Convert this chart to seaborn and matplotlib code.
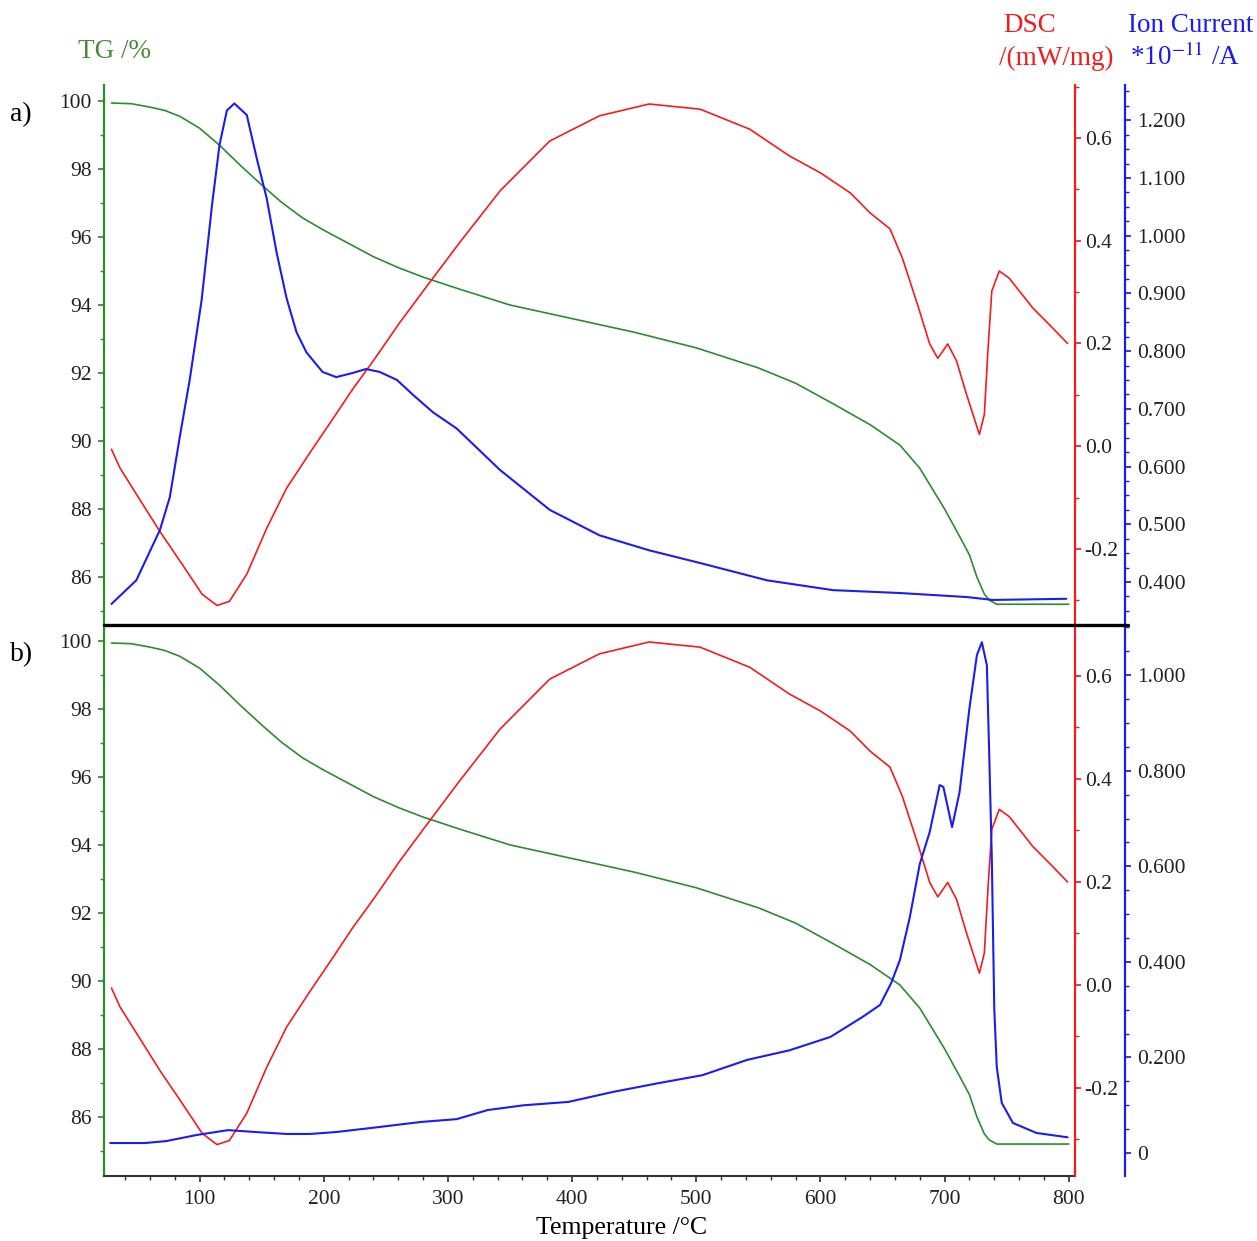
import numpy as np
import matplotlib
matplotlib.use("Agg")
import matplotlib.pyplot as plt
import matplotlib.ticker as mticker
from matplotlib.lines import Line2D
import seaborn as sns

# TG curve (same run shown in both panels)
tg_temp = [29, 45, 60, 72, 84, 100, 116, 133, 150, 166, 183, 200, 218, 240, 260, 280,
           309, 350, 400, 450, 500, 550, 580, 610, 640, 664, 680, 690, 700, 712, 720,
           726, 732, 736, 742, 760, 780, 800]
tg_val = [99.94, 99.92, 99.82, 99.72, 99.55, 99.2, 98.7, 98.1, 97.53, 97.02, 96.56, 96.2,
          95.85, 95.42, 95.1, 94.82, 94.47, 94.0, 93.6, 93.2, 92.74, 92.15, 91.7, 91.1,
          90.48, 89.88, 89.2, 88.6, 88.0, 87.2, 86.65, 86.0, 85.5, 85.32, 85.2, 85.2, 85.2, 85.2]

# DSC curve
dsc_temp = [29, 36, 49, 68, 86, 102, 114, 124, 138, 154, 170, 189, 207, 223, 241, 261, 281,
            309, 342, 382, 422, 462, 503, 543, 575, 600, 624, 640, 656, 666, 678, 688, 694.5,
            702.5, 709.6, 717.6, 728, 732, 735, 738, 744, 752, 771, 785, 799]
dsc_val = [-0.006, -0.043, -0.093, -0.166, -0.23, -0.288, -0.31, -0.302, -0.249, -0.16,
           -0.082, -0.012, 0.052, 0.11, 0.17, 0.24, 0.305, 0.395, 0.497, 0.594, 0.643,
           0.666, 0.656, 0.617, 0.565, 0.532, 0.493, 0.454, 0.423, 0.366, 0.277, 0.199,
           0.171, 0.199, 0.166, 0.101, 0.023, 0.062, 0.191, 0.302, 0.341, 0.327, 0.269,
           0.235, 0.2]

# ion current, panel a
ion_a_temp = [29, 49, 68, 76, 84, 92, 101.6, 110, 116, 122, 128, 138, 146, 154, 162, 170,
              178, 186, 199, 210, 223, 234, 245, 259, 272, 288, 307, 342, 382, 422, 462,
              503, 557, 610, 664, 718, 739, 798]
ion_a_val = [0.362, 0.403, 0.49, 0.547, 0.651, 0.75, 0.888, 1.053, 1.157, 1.217, 1.229,
             1.209, 1.134, 1.065, 0.971, 0.892, 0.833, 0.798, 0.764, 0.755, 0.762, 0.769,
             0.764, 0.75, 0.724, 0.694, 0.666, 0.594, 0.525, 0.481, 0.455, 0.433, 0.403,
             0.386, 0.381, 0.374, 0.369, 0.371]

# ion current, panel b
ion_b_temp = [28, 56, 73, 98, 123, 145, 170, 189, 210, 243, 278, 307, 332, 361, 397, 433,
              469, 505, 541, 575, 608, 621, 634, 648, 657, 664, 672, 680, 688, 696, 699,
              706, 712, 720, 726, 730, 734, 736, 738, 740, 742, 746, 755, 774, 799]
ion_b_val = [0.021, 0.021, 0.025, 0.038, 0.048, 0.044, 0.04, 0.04, 0.044, 0.054, 0.065,
             0.071, 0.09, 0.1, 0.107, 0.128, 0.146, 0.163, 0.195, 0.215, 0.243, 0.264,
             0.285, 0.31, 0.356, 0.404, 0.494, 0.605, 0.672, 0.77, 0.766, 0.682, 0.755,
             0.931, 1.042, 1.069, 1.021, 0.826, 0.617, 0.30, 0.18, 0.105, 0.063, 0.042, 0.033]

GREEN = "#2e8b2e"
RED = "#f21c1c"
BLUE = "#1c1cf0"

sns.set_theme(style="white")
plt.rcParams['font.family'] = ['Liberation Serif', 'DejaVu Serif']
plt.rcParams['mathtext.fontset'] = 'stix'

W, H = 1257, 1241
fig = plt.figure(figsize=(W / 100, H / 100), dpi=100)
fig.patch.set_facecolor('white')

left, right = 104, 1075
panels = [
    dict(top=85, bottom=625, tg_lim=(84.59, 100.47), dsc_lim=(-0.348, 0.703),
         ion_lim=(0.3256, 1.261), ion_t=ion_a_temp, ion_v=ion_a_val,
         ion_minor=0.025, ion_ticks=np.arange(0.4, 1.21, 0.1)),
    dict(top=625, bottom=1176, tg_lim=(84.26, 100.47), dsc_lim=(-0.371, 0.699),
         ion_lim=(-0.048, 1.105), ion_t=ion_b_temp, ion_v=ion_b_val,
         ion_minor=0.05, ion_ticks=np.arange(0.0, 1.01, 0.2)),
]

tick_fs = 15.5

def ion_fmt(v, pos):
    return '0' if abs(v) < 1e-9 else f'{v:.3f}'

for i, p in enumerate(panels):
    ax = fig.add_axes([left / W, 1 - p['bottom'] / H, (right - left) / W,
                       (p['bottom'] - p['top']) / H])
    ax.set_facecolor('none')
    sns.lineplot(x=tg_temp, y=tg_val, ax=ax, color=GREEN, linewidth=1.2)
    ax.set_xlim(23, 805)
    ax.set_ylim(*p['tg_lim'])
    ax.set_yticks(np.arange(86, 101, 2))
    ax.yaxis.set_minor_locator(mticker.MultipleLocator(1))
    ax.tick_params(axis='y', which='both', direction='out', color=GREEN, labelcolor='#222222',
                   labelsize=tick_fs, left=True, pad=5)
    ax.tick_params(axis='y', which='major', length=4)
    ax.tick_params(axis='y', which='minor', length=3)
    for s in ['top', 'right']:
        ax.spines[s].set_visible(False)
    ax.spines['left'].set_color(GREEN)
    ax.spines['left'].set_linewidth(1.6)
    ax.set_ylabel('')
    ax.set_xlabel('')
    if i == 0:
        ax.spines['bottom'].set_visible(False)
        ax.tick_params(axis='x', bottom=False, labelbottom=False)
    else:
        ax.spines['bottom'].set_color('#333333')
        ax.spines['bottom'].set_linewidth(1.5)
        ax.set_xticks(np.arange(100, 801, 100))
        ax.xaxis.set_minor_locator(mticker.MultipleLocator(20))
        ax.tick_params(axis='x', which='both', direction='out', bottom=True, color='#333333',
                       labelcolor='#222222', labelsize=tick_fs, pad=6)
        ax.tick_params(axis='x', which='major', length=4)
        ax.tick_params(axis='x', which='minor', length=3)

    # DSC axis
    ax2 = ax.twinx()
    sns.lineplot(x=dsc_temp, y=dsc_val, ax=ax2, color=RED, linewidth=1.2)
    ax2.set_ylim(*p['dsc_lim'])
    ax2.set_yticks([-0.2, 0.0, 0.2, 0.4, 0.6])
    ax2.yaxis.set_minor_locator(mticker.MultipleLocator(0.1))
    ax2.yaxis.set_major_formatter(mticker.FuncFormatter(lambda v, pos: f'{v:.1f}'))
    ax2.tick_params(axis='y', which='both', direction='out', color=RED, labelcolor='#222222',
                    labelsize=tick_fs, right=True, pad=3)
    ax2.tick_params(axis='y', which='major', length=4)
    ax2.tick_params(axis='y', which='minor', length=3)
    for s in ['top', 'left', 'bottom']:
        ax2.spines[s].set_visible(False)
    ax2.spines['right'].set_color(RED)
    ax2.spines['right'].set_linewidth(1.6)
    ax2.set_ylabel('')

    # ion current axis, 50 px to the right of the DSC spine
    ax3 = ax.twinx()
    ax3.spines['right'].set_position(('outward', 36))
    sns.lineplot(x=p['ion_t'], y=p['ion_v'], ax=ax3, color=BLUE, linewidth=1.5)
    ax3.set_ylim(*p['ion_lim'])
    ax3.set_yticks(p['ion_ticks'])
    ax3.yaxis.set_minor_locator(mticker.MultipleLocator(p['ion_minor']))
    ax3.yaxis.set_major_formatter(mticker.FuncFormatter(ion_fmt))
    ax3.tick_params(axis='y', which='both', direction='out', color=BLUE, labelcolor='#222222',
                    labelsize=tick_fs, right=True, pad=5)
    ax3.tick_params(axis='y', which='major', length=4)
    ax3.tick_params(axis='y', which='minor', length=3)
    for s in ['top', 'left', 'bottom']:
        ax3.spines[s].set_visible(False)
    ax3.spines['right'].set_color(BLUE)
    ax3.spines['right'].set_linewidth(1.6)
    ax3.set_ylabel('')

# black separator between the panels
fig.add_artist(Line2D([left / W, 1128 / W], [1 - 625 / H, 1 - 625 / H],
                      transform=fig.transFigure, color='black', linewidth=2.4))

lab_fs = 19.5
fig.text(78 / W, 1 - 52 / H, 'TG /%', color='#4a8a3a', fontsize=lab_fs, va='center', ha='left')
fig.text(1003 / W, 1 - 25 / H, 'DSC', color=RED, fontsize=lab_fs, va='center', ha='left')
fig.text(999 / W, 1 - 58 / H, '/(mW/mg)', color=RED, fontsize=lab_fs, va='center', ha='left')
fig.text(1128 / W, 1 - 25 / H, 'Ion Current', color=BLUE, fontsize=lab_fs, va='center', ha='left')
fig.text(1130 / W, 1 - 57 / H, r'*10$^{-11}$ /A', color=BLUE, fontsize=lab_fs, va='center', ha='left')
fig.text(10 / W, 1 - 115 / H, 'a)', color='black', fontsize=20, va='center', ha='left')
fig.text(10 / W, 1 - 655 / H, 'b)', color='black', fontsize=20, va='center', ha='left')
fig.text(622 / W, 1 - 1228 / H, 'Temperature /°C', color='black', fontsize=18.5,
         va='center', ha='center')

fig.savefig('out.png', dpi=100, facecolor='white')
